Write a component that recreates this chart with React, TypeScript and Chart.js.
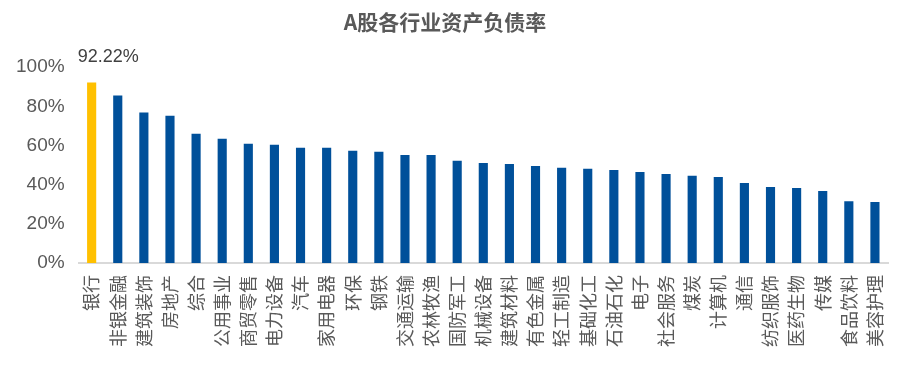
import React, { useEffect, useRef } from "react";
import { Chart, registerables } from "chart.js";

Chart.register(...registerables);

const title = "A股各行业资产负债率";
const categories = [
  "银行", "非银金融", "建筑装饰", "房地产", "综合", "公用事业", "商贸零售", "电力设备",
  "汽车", "家用电器", "环保", "钢铁", "交通运输", "农林牧渔", "国防军工", "机械设备",
  "建筑材料", "有色金属", "轻工制造", "基础化工", "石油石化", "电子", "社会服务", "煤炭",
  "计算机", "通信", "纺织服饰", "医药生物", "传媒", "食品饮料", "美容护理",
];
const values = [
  92.22, 85.5, 76.9, 75.2, 66.0, 63.4, 60.9, 60.4, 58.8, 58.8, 57.3, 56.8, 55.2, 55.2,
  52.2, 51.1, 50.6, 49.6, 48.6, 48.1, 47.5, 46.5, 45.5, 44.5, 43.9, 40.9, 38.8, 38.3,
  36.8, 31.6, 31.1,
];
const yTicks = [0, 20, 40, 60, 80, 100];

const NAVY = "#00509A";
const GOLD = "#FFC000";

const labelPlugin = {
  id: "firstLabel",
  afterDatasetsDraw(chart: any) {
    const meta = chart.getDatasetMeta(0);
    const el = meta.data[0];
    if (!el) return;
    const ctx = chart.ctx;
    ctx.save();
    ctx.font = "18px 'Liberation Sans', Arial, sans-serif";
    ctx.fillStyle = "#404040";
    ctx.textAlign = "left";
    ctx.textBaseline = "middle";
    ctx.fillText(values[0].toFixed(2) + "%", el.x - 14, el.y - 25);
    ctx.restore();
  },
};

export default function App() {
  const ref = useRef<HTMLCanvasElement | null>(null);
  useEffect(() => {
    if (!ref.current) return;
    const chart = new Chart(ref.current, {
      type: "bar",
      data: {
        labels: categories,
        datasets: [
          {
            data: values,
            backgroundColor: values.map((_, i) => (i === 0 ? GOLD : NAVY)),
            categoryPercentage: 1,
            barPercentage: 0.35,
          },
        ],
      },
      options: {
        responsive: true,
        maintainAspectRatio: false,
        animation: false,
        layout: { padding: { left: 2, right: 24, top: 6, bottom: 13 } },
        plugins: {
          legend: { display: false },
          tooltip: { enabled: false },
          title: {
            display: true,
            text: title,
            color: "#595959",
            font: { family: "'Noto Sans CJK SC', sans-serif", size: 21, weight: "bold" },
            padding: { top: 3, bottom: 33 },
          },
        },
        scales: {
          x: {
            grid: { display: false, drawTicks: false },
            border: { display: true, color: "#D9D9D9", width: 2 },
            ticks: {
              autoSkip: false,
              minRotation: 90,
              maxRotation: 90,
              padding: 12,
              color: "#595959",
              font: { family: "'Noto Sans CJK SC', sans-serif", size: 18 },
            },
          },
          y: {
            min: 0,
            max: 100,
            afterBuildTicks: (axis: any) => {
              axis.ticks = yTicks.map((v) => ({ value: v }));
            },
            grid: { display: false, drawTicks: false },
            border: { display: false },
            ticks: {
              padding: 14,
              color: "#595959",
              font: { family: "'Liberation Sans', Arial, sans-serif", size: 19 },
              callback: (v: any) => v + "%",
            },
          },
        },
      },
      plugins: [labelPlugin],
    });
    return () => chart.destroy();
  }, []);
  return (
    <div style={{ position: "fixed", left: 0, top: 0, width: 912, height: 372, background: "#fff" }}>
      <canvas ref={ref} />
    </div>
  );
}
